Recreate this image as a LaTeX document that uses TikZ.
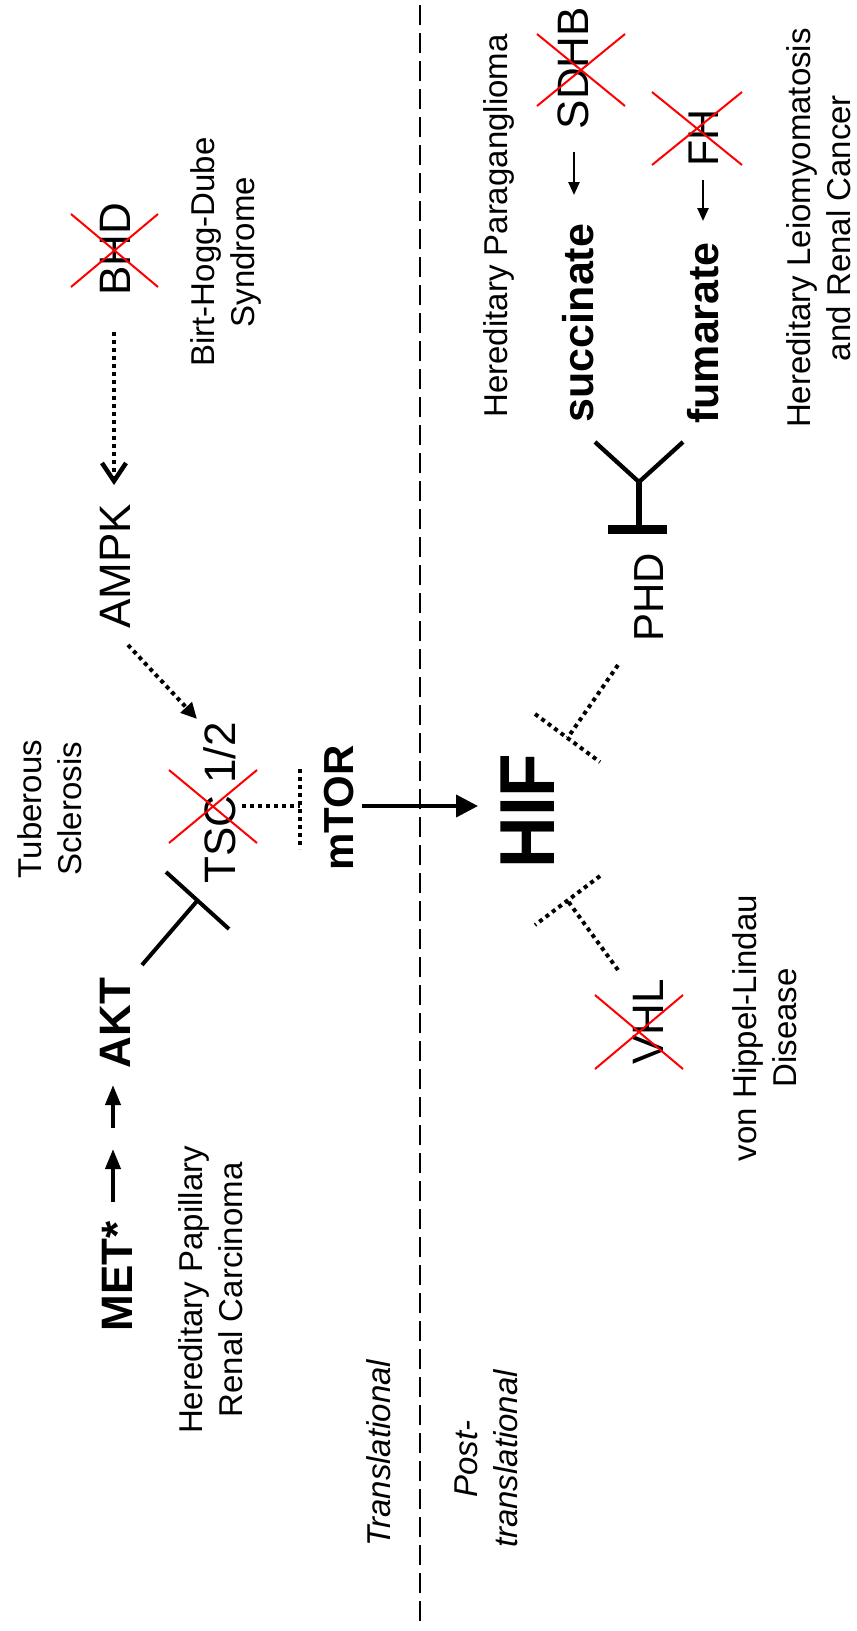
\documentclass[tikz,border=0pt]{standalone}
\usepackage{fontspec}
\usepackage{graphicx}
\setmainfont{Liberation Sans}
\usetikzlibrary{arrows.meta}
\begin{document}
\begin{tikzpicture}[x=1pt,y=-1pt,
  lbl/.style={rotate=90, inner sep=0pt, anchor=center, align=center, font=\fontsize{33}{40}\selectfont},
  ital/.style={lbl, font=\fontsize{33}{40}\selectfont\itshape},
  gene/.style={rotate=90, inner sep=0pt, anchor=base, font=\fontsize{43}{48}\selectfont},
  bgene/.style={gene, font=\fontsize{43}{48}\selectfont\bfseries},
  dotl/.style={line width=4pt, dash pattern=on 4pt off 4pt},
  thickl/.style={line width=4pt},
  redx/.style={draw=red, line width=2pt},
  bigtip/.style={-{Triangle[length=22pt,width=22pt]}},
  midtip/.style={-{Triangle[length=20pt,width=15pt]}},
  smalltip/.style={-{Triangle[length=13pt,width=11pt]}}
]
\useasboundingbox (0,0) rectangle (857,1631);
\fill[white] (0,0) rectangle (857,1631);

% divider
\coordinate (divtop) at (420,5);
\coordinate (divbot) at (420,1624);
\draw[line width=2.2pt, dash pattern=on 20pt off 8pt] (divtop) -- (divbot);

% genes / metabolites
\node[bgene, font=\fontsize{44}{48}\selectfont\bfseries] (met) at (132,1276) {MET*};
\node[bgene, font=\fontsize{44}{48}\selectfont\bfseries] (akt) at (130,1023) {AKT};
\node[gene, font=\fontsize{44}{48}\selectfont] (tsc) at (235,803) {TSC 1/2};
\node[gene, font=\fontsize{44}{48}\selectfont] (ampk) at (130,566) {AMPK};
\node[gene, font=\fontsize{44}{48}\selectfont] (bhd) at (130,249) {BHD};
\node[bgene, font=\fontsize{42}{48}\selectfont\bfseries] (mtor) at (353,808) {mTOR};
\node[gene, font=\fontsize{78}{80}\selectfont\bfseries] (hif) at (554,811) {\scalebox{0.915}[1]{HIF}};
\node[gene, font=\fontsize{42}{48}\selectfont] (phd) at (663,597) {PHD};
\node[gene, font=\fontsize{44}{48}\selectfont] (vhl) at (663,1022) {VHL};
\node[bgene] (succ) at (593,323) {succinate};
\node[bgene] (fum) at (718,333) {fumarate};
\node[gene, font=\fontsize{44}{48}\selectfont] (sdhb) at (588,68) {SDHB};
\node[gene, font=\fontsize{43}{48}\selectfont] (fh) at (718,138) {FH};

% disease / region labels
\node[lbl] (bhdsyn) at (226,252) {Birt-Hogg-Dube\\Syndrome};
\node[lbl] (tub) at (50,809) {Tuberous\\Sclerosis};
\node[lbl] (hprc) at (211,1290) {Hereditary Papillary\\Renal Carcinoma};
\node[lbl, anchor=base] (hpg) at (507,226) {Hereditary Paraganglioma};
\node[lbl] (hlrc) at (819,228) {Hereditary Leiomyomatosis\\and Renal Cancer};
\node[lbl] (vhld) at (765,1028) {von Hippel-Lindau\\Disease};
\node[ital, anchor=base] (transl) at (390,1453) {Translational};
\node[ital] (post) at (486,1459) {Post-\\translational};

% red crosses
\draw[redx] (71,214) -- (158,287) (71,287) -- (158,214);
\draw[redx] (169,770) -- (257,843) (169,843) -- (257,770);
\draw[redx] (537,34) -- (625,106) (537,106) -- (625,34);
\draw[redx] (652,92) -- (742,165) (652,165) -- (742,92);
\draw[redx] (595,995) -- (683,1069) (595,1069) -- (683,995);

% MET -> -> AKT
\coordinate (a1s) at (113,1202); \coordinate (a1e) at (113,1149);
\coordinate (a2s) at (113,1128); \coordinate (a2e) at (113,1085);
\draw[thickl, midtip] (a1s) -- (a1e);
\draw[thickl, midtip] (a2s) -- (a2e);

% AKT -| TSC
\coordinate (aktS) at (142,965); \coordinate (aktJ) at (197.5,900.5);
\coordinate (aktB1) at (166,872); \coordinate (aktB2) at (229,929);
\draw[thickl] (aktS) -- (aktJ);
\draw[thickl] (aktB1) -- (aktB2);

% BHD ..> AMPK
\coordinate (bhdS) at (114,332); \coordinate (bhdE) at (114,485);
\draw[dotl, -{Straight Barb[length=18pt,width=24pt,line width=4.5pt]}] (bhdS) -- (bhdE);

% AMPK ..> TSC
\coordinate (ampkS) at (128,645); \coordinate (ampkE) at (197,719);
\draw[dotl, -{Triangle[length=16pt,width=15pt]}] (ampkS) -- (ampkE);

% TSC ..| mTOR
\coordinate (tscS) at (242,806); \coordinate (tscJ) at (300,806);
\coordinate (tscB1) at (300,769); \coordinate (tscB2) at (300,849);
\draw[dotl] (tscS) -- (tscJ);
\draw[dotl] (tscB1) -- (tscB2);

% mTOR -> HIF
\coordinate (mtS) at (362,806); \coordinate (mtE) at (478,806);
\draw[thickl, bigtip] (mtS) -- (mtE);

% PHD ..| HIF
\coordinate (phdS) at (618,665); \coordinate (phdJ) at (567.5,738);
\coordinate (phdB1) at (535,714); \coordinate (phdB2) at (600,762);
\draw[dotl] (phdS) -- (phdJ);
\draw[dotl] (phdB1) -- (phdB2);

% VHL ..| HIF
\coordinate (vhlS) at (618,970); \coordinate (vhlJ) at (567.5,900.5);
\coordinate (vhlB1) at (600,876); \coordinate (vhlB2) at (535,925);
\draw[dotl] (vhlS) -- (vhlJ);
\draw[dotl] (vhlB1) -- (vhlB2);

% succinate / fumarate -| PHD
\coordinate (yL) at (595,442); \coordinate (yR) at (683,442);
\coordinate (yJ) at (639,482); \coordinate (yB) at (639,529);
\coordinate (yB1) at (608,529); \coordinate (yB2) at (667,529);
\draw[line width=4.3pt] (yL) -- (yJ) -- (yR);
\draw[line width=5.3pt] (yJ) -- (yB);
\draw[line width=9pt] (yB1) -- (yB2);

% SDHB -> succinate, FH -> fumarate
\coordinate (sdS) at (574,152); \coordinate (sdE) at (574,195);
\coordinate (fhS) at (703,180); \coordinate (fhE) at (703,221);
\draw[line width=2.5pt, smalltip] (sdS) -- (sdE);
\draw[line width=2.5pt, smalltip] (fhS) -- (fhE);
\end{tikzpicture}
\end{document}
